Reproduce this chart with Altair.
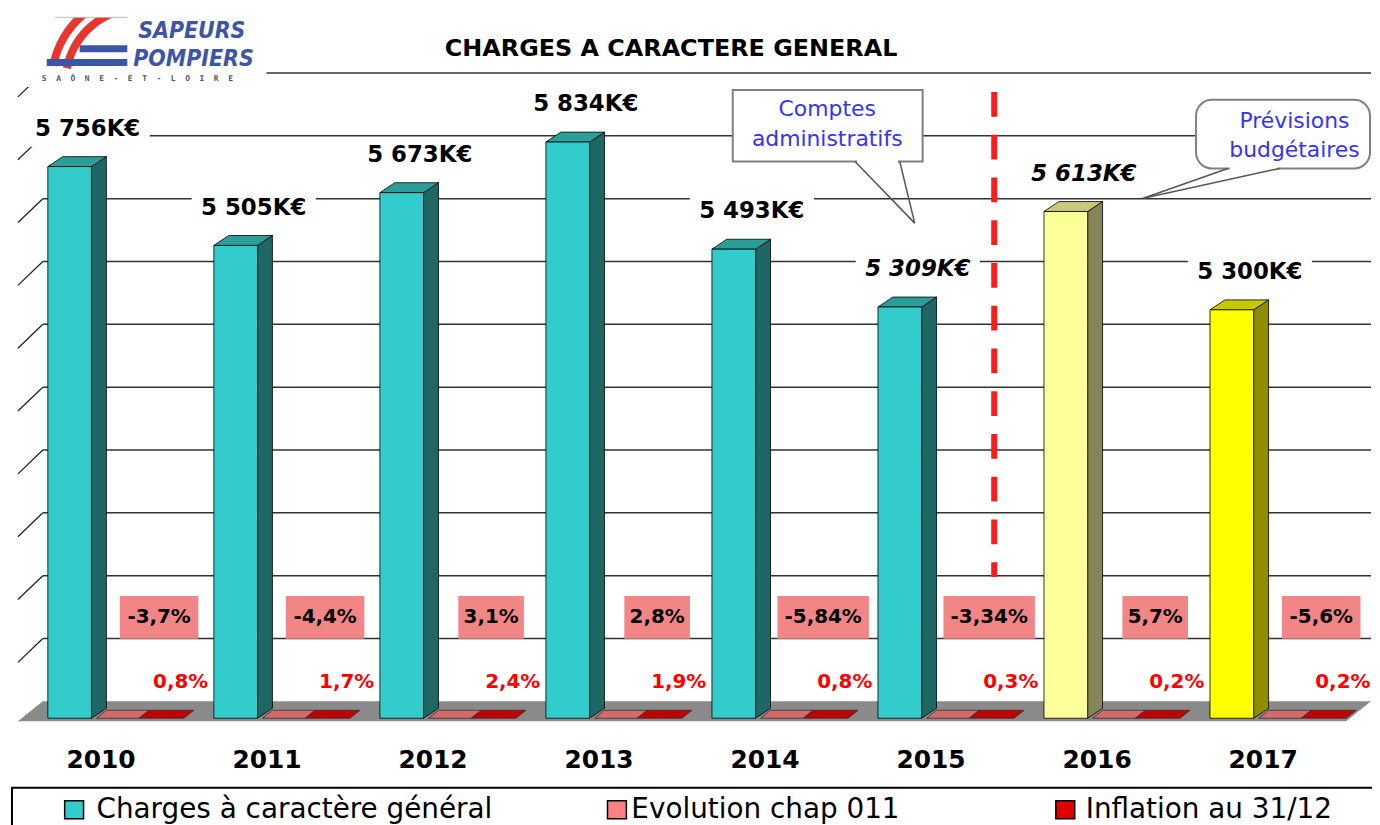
import altair as alt
import pandas as pd

# ---------------- data ----------------
years = ["2010", "2011", "2012", "2013", "2014", "2015", "2016", "2017"]
charges = [5756, 5505, 5673, 5834, 5493, 5309, 5613, 5300]
charge_labels = ["5 756K€", "5 505K€", "5 673K€", "5 834K€", "5 493K€", "5 309K€", "5 613K€", "5 300K€"]
evolution = [-3.7, -4.4, 3.1, 2.8, -5.84, -3.34, 5.7, -5.6]
evolution_labels = ["-3,7%", "-4,4%", "3,1%", "2,8%", "-5,84%", "-3,34%", "5,7%", "-5,6%"]
inflation = [0.8, 1.7, 2.4, 1.9, 0.8, 0.3, 0.2, 0.2]
inflation_labels = ["0,8%", "1,7%", "2,4%", "1,9%", "0,8%", "0,3%", "0,2%", "0,2%"]
status = ["CA", "CA", "CA", "CA", "CA", "CA", "BP2016", "BP2017"]
series_names = ["Charges à caractère général", "Evolution chap 011", "Inflation au 31/12"]
title_text = "CHARGES A CARACTERE GENERAL"
callout_ca = ["Comptes", "administratifs"]
callout_bp = ["Prévisions", "budgétaires"]
logo_lines = ["SAPEURS", "POMPIERS"]
logo_sub = "\u00a0\u00a0".join(list("SAÔNE-ET-LOIRE"))

# ---------------- geometry ----------------
W, H = 1336, 632
Y_MIN, Y_MAX = 4000, 6000
PXU = W / 8.0
PYK = H / float(Y_MAX - Y_MIN)


def ux(p):
    return p / PXU


def uy(p):
    return p / PYK


BL, BR = 0.18, 0.443
BOFF = uy(7)
DXB, DYB = ux(15), uy(10)
DXW, DYW = ux(25), uy(24)
B0 = Y_MIN + BOFF

xs = alt.Scale(domain=[0, 8], nice=False, zero=False)
ys = alt.Scale(domain=[Y_MIN, Y_MAX], nice=False, zero=False)

st_domain = ["CA", "BP2016", "BP2017"]
front_cols = ["#33CCCC", "#FFFF99", "#FFFF00"]
side_cols = ["#1E6764", "#85855A", "#8E8E00"]
top_cols = ["#2A9E99", "#C9C97A", "#C8C800"]

FONT = "DejaVu Sans"

# ---------------- tables ----------------
front = pd.DataFrame({
    "year": years, "status": status, "v": charges,
    "x1": [i + BL for i in range(8)], "x2": [i + BR for i in range(8)],
    "y1": [B0] * 8, "y2": [v + BOFF for v in charges],
})

side_rows, top_rows = [], []
for i, (yr, v, st) in enumerate(zip(years, charges, status)):
    t = v + BOFF
    side_rows += [
        {"id": yr, "status": st, "x": i + BR, "lo": B0, "hi": t},
        {"id": yr, "status": st, "x": i + BR + DXB, "lo": B0 + DYB, "hi": t + DYB},
    ]
    top_rows += [
        {"id": yr, "status": st, "x": i + BL, "lo": t, "hi": t},
        {"id": yr, "status": st, "x": i + BL + DXB, "lo": t, "hi": t + DYB},
        {"id": yr, "status": st, "x": i + BR, "lo": t, "hi": t + DYB},
        {"id": yr, "status": st, "x": i + BR + DXB, "lo": t + DYB, "hi": t + DYB},
    ]
side = pd.DataFrame(side_rows)
top = pd.DataFrame(top_rows)

flat_rows = []
FS, FH = ux(10), uy(8)
for i, yr in enumerate(years):
    for ser, a, b, val in [(series_names[1], 0.473, 0.73, evolution[i]),
                           (series_names[2], 0.73, 1.0, inflation[i])]:
        fid = yr + ser
        flat_rows += [
            {"id": fid, "serie": ser, "val": val, "x": i + a, "lo": B0, "hi": B0},
            {"id": fid, "serie": ser, "val": val, "x": i + a + FS, "lo": B0, "hi": B0 + FH},
            {"id": fid, "serie": ser, "val": val, "x": i + b, "lo": B0, "hi": B0 + FH},
            {"id": fid, "serie": ser, "val": val, "x": i + b + FS, "lo": B0 + FH, "hi": B0 + FH},
        ]
flat = pd.DataFrame(flat_rows)

F0, F1 = Y_MIN + uy(4), Y_MIN + DYW
floor = pd.DataFrame({"x": [0, DXW, 8, 8 + DXW], "lo": [F0, F0, F0, F1], "hi": [F0, F1, F1, F1]})

grid_vals = list(range(4200, 6001, 200))
grid = pd.DataFrame({"v": grid_vals, "vb": [g + DYW for g in grid_vals],
                     "x0": [0.0] * len(grid_vals), "xb": [DXW] * len(grid_vals),
                     "xe": [8 + DXW] * len(grid_vals)})

lab = pd.DataFrame({
    "year": years, "label": charge_labels,
    "x": [i + 0.42 for i in range(8)],
    "y": [v + BOFF + uy(38) for v in charges],
})
lab["w"] = lab["label"].str.len() * 16.4 + 10
lab["bx1"] = lab["x"] - lab["w"].map(lambda w: ux(w / 2))
lab["bx2"] = lab["x"] + lab["w"].map(lambda w: ux(w / 2))
lab["by1"] = lab["y"] - uy(18)
lab["by2"] = lab["y"] + uy(18)

evo = pd.DataFrame({"year": years, "label": evolution_labels, "val": evolution,
                    "x": [i + 0.85 for i in range(8)]})
evo["w"] = evo["label"].str.len() * 13 + 14
evo["bx1"] = evo["x"] - evo["w"].map(lambda w: ux(w / 2))
evo["bx2"] = evo["x"] + evo["w"].map(lambda w: ux(w / 2))

inf = pd.DataFrame({"year": years, "label": inflation_labels, "val": inflation,
                    "x": [i + 0.98 for i in range(8)]})

yl = pd.DataFrame({"year": years, "x": [i + 0.5 for i in range(8)]})

one = pd.DataFrame({"k": [0]})

# ---------------- layers ----------------
X = lambda f: alt.X(f, scale=xs, axis=None)
Y = lambda f: alt.Y(f, scale=ys, axis=None)

floor_layer = alt.Chart(floor).mark_area(color="#8A8A8A").encode(
    x=alt.X("x:Q", scale=xs, axis=alt.Axis(values=list(range(9)), labels=False, tickSize=10,
                                            tickColor="black", domainColor="black", tickWidth=1.5,
                                            domainWidth=1.5, grid=False, title=None)),
    y=alt.Y("lo:Q", scale=ys, axis=alt.Axis(values=list(range(4000, 6001, 200)), labels=False,
                                             tickSize=6, tickColor="black", domainColor="black",
                                             tickWidth=1.5, domainWidth=1.5, grid=False, title=None)),
    y2="hi:Q",
)

conn = alt.Chart(grid).mark_rule(color="#222222", strokeWidth=1.3).encode(
    x=X("x0:Q"), x2="xb:Q", y=Y("v:Q"), y2="vb:Q")
back = alt.Chart(grid).mark_rule(color="#333333", strokeWidth=1.5).encode(
    x=X("xb:Q"), x2="xe:Q", y=Y("vb:Q"))

lab_bg = alt.Chart(lab).mark_rect(color="white").encode(
    x=X("bx1:Q"), x2="bx2:Q", y=Y("by1:Q"), y2="by2:Q")

logo_bg = alt.Chart(one).mark_rect(color="white").encode(
    x=alt.value(-10), x2=alt.value(250), y=alt.value(-87), y2=alt.value(-10))

evo_box = alt.Chart(evo).mark_rect(color="#F28686").encode(
    x=X("bx1:Q"), x2="bx2:Q", y=alt.value(502), y2=alt.value(545))
evo_txt = alt.Chart(evo).mark_text(font=FONT, fontSize=20, fontWeight="bold", color="black",
                                   baseline="middle").encode(
    x=X("x:Q"), y=alt.value(523), text="label:N")

inf_txt = alt.Chart(inf).mark_text(font=FONT, fontSize=20, fontWeight="bold", color="#FF0000",
                                   baseline="middle").encode(
    x=X("x:Q"), y=alt.value(589), text="label:N")

flat_layer = alt.Chart(flat).mark_area(stroke="#333333", strokeWidth=0.8).encode(
    x=X("x:Q"), y=Y("lo:Q"), y2="hi:Q", detail="id:N",
    fill=alt.Fill("serie:N", scale=alt.Scale(domain=series_names[1:], range=["#D46A6A", "#C00000"]),
                  legend=None))

side_layer = alt.Chart(side).mark_area(stroke="black", strokeWidth=0.8).encode(
    x=X("x:Q"), y=Y("lo:Q"), y2="hi:Q", detail="id:N",
    fill=alt.Fill("status:N", scale=alt.Scale(domain=st_domain, range=side_cols), legend=None))
top_layer = alt.Chart(top).mark_area(stroke="black", strokeWidth=0.8).encode(
    x=X("x:Q"), y=Y("lo:Q"), y2="hi:Q", detail="id:N",
    fill=alt.Fill("status:N", scale=alt.Scale(domain=st_domain, range=top_cols), legend=None))
front_layer = alt.Chart(front).mark_rect(stroke="black", strokeWidth=0.8).encode(
    x=X("x1:Q"), x2="x2:Q", y=Y("y1:Q"), y2="y2:Q",
    fill=alt.Fill("status:N", scale=alt.Scale(domain=st_domain, range=front_cols), legend=None))

lab_n = alt.Chart(lab[~lab["year"].isin(["2015", "2016"])]).mark_text(
    font=FONT, fontSize=23, fontWeight="bold", color="black", baseline="middle").encode(
    x=X("x:Q"), y=Y("y:Q"), text="label:N")
lab_i = alt.Chart(lab[lab["year"].isin(["2015", "2016"])]).mark_text(
    font=FONT, fontSize=23, fontWeight="bold", fontStyle="italic", color="black",
    baseline="middle").encode(x=X("x:Q"), y=Y("y:Q"), text="label:N")

dash = alt.Chart(one).mark_rule(color="#FF1A1A", strokeWidth=6, strokeDash=[25, 18]).encode(
    x=alt.value(982), y=alt.value(-5), y2=alt.value(483))

# callouts
ca_box = alt.Chart(one).mark_rect(fill="white", stroke="#808080", strokeWidth=2).encode(
    x=alt.value(719), x2=alt.value(910), y=alt.value(-7), y2=alt.value(65))
ca_erase = alt.Chart(one).mark_rule(color="white", strokeWidth=3).encode(
    x=alt.value(844), x2=alt.value(885), y=alt.value(65))
ca_p1 = alt.Chart(one).mark_rule(color="#555555", strokeWidth=1.5).encode(
    x=alt.value(842), y=alt.value(65), x2=alt.value(902), y2=alt.value(127))
ca_p2 = alt.Chart(one).mark_rule(color="#555555", strokeWidth=1.5).encode(
    x=alt.value(887), y=alt.value(65), x2=alt.value(902), y2=alt.value(127))
ca_t1 = alt.Chart(one).mark_text(text=callout_ca[0], font=FONT, fontSize=22, color="#3333FF",
                                 baseline="middle").encode(x=alt.value(814), y=alt.value(12))
ca_t2 = alt.Chart(one).mark_text(text=callout_ca[1], font=FONT, fontSize=22, color="#3333FF",
                                 baseline="middle").encode(x=alt.value(814), y=alt.value(42))

bp_box = alt.Chart(one).mark_rect(fill="white", stroke="#808080", strokeWidth=2, cornerRadius=16).encode(
    x=alt.value(1185), x2=alt.value(1360), y=alt.value(3), y2=alt.value(72))
bp_erase = alt.Chart(one).mark_rule(color="white", strokeWidth=3).encode(
    x=alt.value(1219), x2=alt.value(1267), y=alt.value(72))
bp_p1 = alt.Chart(one).mark_rule(color="#555555", strokeWidth=1.5).encode(
    x=alt.value(1217), y=alt.value(72), x2=alt.value(1132), y2=alt.value(102))
bp_p2 = alt.Chart(one).mark_rule(color="#555555", strokeWidth=1.5).encode(
    x=alt.value(1269), y=alt.value(72), x2=alt.value(1132), y2=alt.value(102))
bp_t1 = alt.Chart(one).mark_text(text=callout_bp[0], font=FONT, fontSize=22, color="#3333FF",
                                 baseline="middle").encode(x=alt.value(1284), y=alt.value(24))
bp_t2 = alt.Chart(one).mark_text(text=callout_bp[1], font=FONT, fontSize=22, color="#3333FF",
                                 baseline="middle").encode(x=alt.value(1284), y=alt.value(53))

title = alt.Chart(one).mark_text(text=title_text, font=FONT, fontSize=24, fontWeight="bold",
                                 color="black", baseline="middle").encode(
    x=alt.value(657), y=alt.value(-48))

# logo (page coords minus plot origin 18,95)
arc1 = alt.Chart(one).mark_arc(color="#E8362F").encode(
    x=alt.value(122), y=alt.value(-15), theta=alt.value(4.9), theta2=alt.value(6.28),
    radius=alt.value(92), radius2=alt.value(84))
arc2 = alt.Chart(one).mark_arc(color="#E8362F").encode(
    x=alt.value(122), y=alt.value(-15), theta=alt.value(4.9), theta2=alt.value(6.28),
    radius=alt.value(78), radius2=alt.value(70))
clip_top = alt.Chart(one).mark_rect(color="white").encode(
    x=alt.value(10), x2=alt.value(130), y=alt.value(-95), y2=alt.value(-80))
frame = alt.Chart(one).mark_rule(color="#BBBBBB", strokeWidth=1).encode(
    x=alt.value(37), x2=alt.value(110), y=alt.value(-80))
blue1 = alt.Chart(one).mark_rect(color="#3D55A6").encode(
    x=alt.value(62), x2=alt.value(110), y=alt.value(-52), y2=alt.value(-45))
blue2 = alt.Chart(one).mark_rect(color="#3D55A6").encode(
    x=alt.value(29), x2=alt.value(110), y=alt.value(-38), y2=alt.value(-31))
logo_font = "DejaVu Sans Condensed, sans-serif"
logo_t1 = alt.Chart(one).mark_text(text=logo_lines[0], font=logo_font, fontSize=23,
                                   fontWeight="bold", fontStyle="italic", color="#3D55A6",
                                   align="left", baseline="alphabetic").encode(
    x=alt.value(121), y=alt.value(-59))
logo_t2 = alt.Chart(one).mark_text(text=logo_lines[1], font=logo_font, fontSize=23,
                                   fontWeight="bold", fontStyle="italic", color="#3D55A6",
                                   align="left", baseline="alphabetic").encode(
    x=alt.value(116), y=alt.value(-31))
logo_t3 = alt.Chart(one).mark_text(text=logo_sub, font="DejaVu Sans Mono", fontSize=8,
                                   fontWeight="bold", color="#555555", align="left",
                                   baseline="alphabetic").encode(
    x=alt.value(24), y=alt.value(-16))

years_txt = alt.Chart(yl).mark_text(font=FONT, fontSize=25, fontWeight="bold", color="black",
                                    baseline="middle").encode(
    x=X("x:Q"), y=alt.value(667), text="year:N")

# legend
leg_box = alt.Chart(one).mark_rect(fill="white", stroke="black", strokeWidth=2).encode(
    x=alt.value(-6), x2=alt.value(1400), y=alt.value(695), y2=alt.value(760))
leg_items = []
for (sx, tx, col, name) in [(47, 79, "#33CCCC", series_names[0]),
                            (593, 617, "#FF8080", series_names[1]),
                            (1044, 1074, "#E00000", series_names[2])]:
    leg_items.append(alt.Chart(one).mark_rect(fill=col, stroke="black", strokeWidth=1.5).encode(
        x=alt.value(sx), x2=alt.value(sx + 19), y=alt.value(708), y2=alt.value(726)))
    leg_items.append(alt.Chart(one).mark_text(text=name, font=FONT, fontSize=28, color="black",
                                              align="left", baseline="middle").encode(
        x=alt.value(tx), y=alt.value(717)))

chart = alt.layer(
    floor_layer, conn, back, lab_bg, logo_bg,
    evo_box, evo_txt, inf_txt, flat_layer,
    side_layer, top_layer, front_layer,
    lab_n, lab_i, dash,
    ca_box, ca_erase, ca_p1, ca_p2, ca_t1, ca_t2,
    bp_box, bp_erase, bp_p1, bp_p2, bp_t1, bp_t2,
    title, arc1, arc2, blue1, blue2, clip_top, frame, logo_t1, logo_t2, logo_t3,
    years_txt, leg_box, *leg_items,
).resolve_scale(fill="independent").properties(
    width=W, height=H,
    autosize=alt.AutoSizeParams(type="none"),
    padding={"left": 10, "top": 87, "right": 26, "bottom": 98},
).configure_view(stroke=None)

chart.save("out.html", embed_options={"renderer": "svg", "actions": False})
